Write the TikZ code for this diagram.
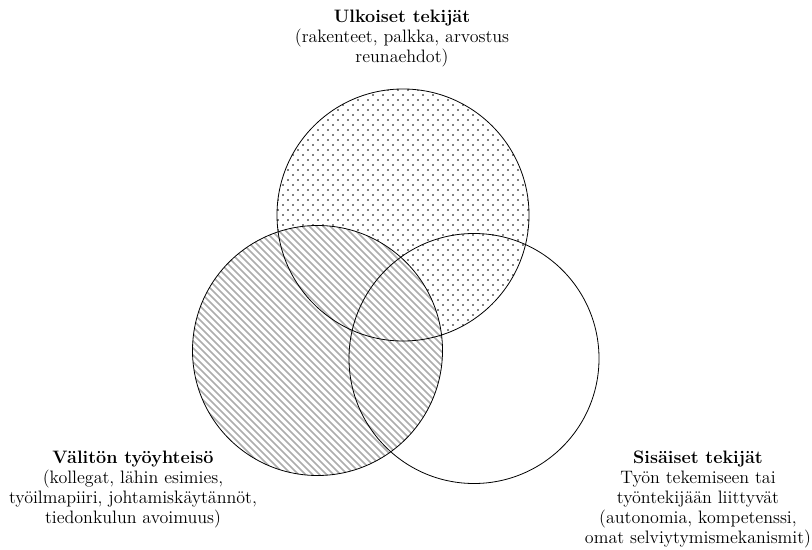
\documentclass[tikz,border=0pt]{standalone}
\usepackage{fontspec}
\usetikzlibrary{calc}

\begin{document}
\begin{tikzpicture}[x=0.75pt,y=0.75pt,
  rim/.style={draw=black,line width=0.6pt},
  stripe/.style={draw=black!32,line width=1.2pt},
  dot/.style={fill=black},
  factor/.style={align=center,font=\fontsize{13.5}{15}\selectfont}]
  \useasboundingbox (0,0) rectangle (812,549);
  \coordinate (top) at (403,334);
  \coordinate (left) at (317.5,198.5);
  \coordinate (right) at (474,190.5);
  % dotted fill of the upper circle
  \begin{scope}
    \clip (top) circle (126);
    \foreach \j in {0,...,52} {
      \pgfmathtruncatemacro\shift{mod(\j,2)*5}
      \foreach \i in {0,...,26}
        \fill[dot] ($(top)+(\i*10-130+\shift,\j*5-130)$) circle (0.8);
    }
  \end{scope}
  % hatched fill of the left circle, covers the dots
  \fill[white] (left) circle (125);
  \begin{scope}
    \clip (left) circle (125);
    \foreach \k in {0,...,53}
      \draw[stripe] ($(left)+(\k*7-315,130)$) -- ++(260,-260);
  \end{scope}
  \draw[rim] (top) circle (126);
  \draw[rim] (left) circle (125);
  \draw[rim] (right) circle (125);
  \node[factor] (ulkoiset) at (402,510)
    {\textbf{Ulkoiset tekijät}\\(rakenteet, palkka, arvostus\\reunaehdot)};
  \node[factor] (valiton) at (133,59)
    {\textbf{Välitön työyhteisö}\\(kollegat, lähin esimies,\\työilmapiiri, johtamiskäytännöt,\\tiedonkulun avoimuus)};
  \node[factor] (sisaiset) at (698,50)
    {\textbf{Sisäiset tekijät}\\Työn tekemiseen tai\\työntekijään liittyvät\\(autonomia, kompetenssi,\\omat selviytymismekanismit)};
\end{tikzpicture}
\end{document}
